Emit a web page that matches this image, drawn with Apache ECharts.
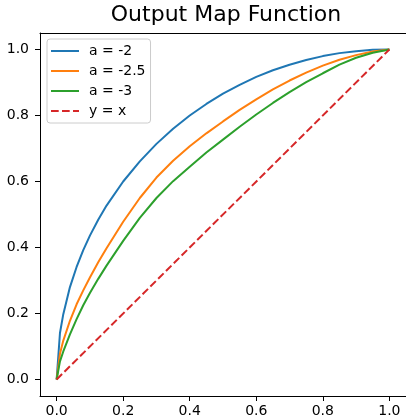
<!DOCTYPE html>
<html>
<head>
<meta charset="utf-8">
<script src="https://cdn.jsdelivr.net/npm/echarts@6/dist/echarts.min.js"></script>
<style>
html,body{margin:0;padding:0;background:#fff;}
#chart{width:406px;height:419px;}
</style>
</head>
<body>
<div id="chart"></div>
<script>
const xs = [0, 0.01, 0.02, 0.04, 0.06, 0.08, 0.1, 0.125, 0.15, 0.2, 0.25, 0.3, 0.35, 0.4, 0.45, 0.5, 0.55, 0.6, 0.65, 0.7, 0.75, 0.8, 0.85, 0.9, 0.95, 1.0];
const blueY = [0, 0.141, 0.198, 0.28, 0.341, 0.392, 0.436, 0.484, 0.527, 0.6, 0.661, 0.714, 0.76, 0.8, 0.835, 0.866, 0.893, 0.917, 0.937, 0.954, 0.968, 0.98, 0.989, 0.995, 0.999, 1.0];
const orangeY = [0, 0.078, 0.118, 0.178, 0.228, 0.27, 0.309, 0.355, 0.398, 0.478, 0.55, 0.612, 0.663, 0.707, 0.746, 0.782, 0.817, 0.849, 0.879, 0.906, 0.93, 0.951, 0.969, 0.983, 0.994, 1.0];
const greenY = [0, 0.055, 0.085, 0.137, 0.183, 0.225, 0.262, 0.305, 0.345, 0.42, 0.49, 0.55, 0.601, 0.645, 0.688, 0.727, 0.766, 0.803, 0.838, 0.871, 0.901, 0.928, 0.954, 0.975, 0.99, 1.0];
const lineX = [0, 1];
const lineY = [0, 1];
const seriesNames = ['a = -2', 'a = -2.5', 'a = -3', 'y = x'];
const tickValues = [0, 0.2, 0.4, 0.6, 0.8, 1.0];

function pairs(x, y) { return x.map((v, i) => [v, y[i]]); }

const chart = echarts.init(document.getElementById('chart'), null, {renderer: 'canvas'});
const font = 'DejaVu Sans';
const axisCommon = {
  type: 'value', min: -0.05, max: 1.05,
  splitLine: {show: false},
  axisLine: {show: true, onZero: false, lineStyle: {color: '#000', width: 1}},
  axisTick: {show: true, inside: false, length: 5, lineStyle: {color: '#000', width: 1}, customValues: tickValues},
  axisLabel: {show: true, customValues: tickValues, color: '#000', fontFamily: font, fontSize: 14,
    formatter: v => v.toFixed(1)}
};
const option = {
  backgroundColor: '#fff',
  animation: false,
  title: {
    text: 'Output Map Function',
    left: 226, top: 4, padding: 0, textAlign: 'center',
    textStyle: {fontFamily: font, fontSize: 22, fontWeight: 'normal', color: '#000'}
  },
  legend: {
    orient: 'vertical', left: 47, top: 39,
    padding: [5, 5, 5, 3],
    itemWidth: 28, itemHeight: 14, itemGap: 6,
    backgroundColor: 'rgba(255,255,255,0.8)', borderColor: '#cccccc', borderWidth: 1, borderRadius: 3,
    itemStyle: {opacity: 0},
    textStyle: {fontFamily: font, fontSize: 14, color: '#000', lineHeight: 14, padding: [0, 0, 0, 5]},
    data: seriesNames
  },
  grid: {left: 40, top: 33, width: 373, height: 363, containLabel: false},
  xAxis: [
    Object.assign({}, axisCommon, {position: 'bottom', axisLabel: Object.assign({}, axisCommon.axisLabel, {margin: 8})}),
    {type: 'value', min: -0.05, max: 1.05, position: 'top', splitLine: {show: false},
     axisLine: {show: true, onZero: false, lineStyle: {color: '#000', width: 1}}, axisTick: {show: false}, axisLabel: {show: false}}
  ],
  yAxis: [
    Object.assign({}, axisCommon, {position: 'left', axisLabel: Object.assign({}, axisCommon.axisLabel, {margin: 11})}),
    {type: 'value', min: -0.05, max: 1.05, position: 'right', splitLine: {show: false},
     axisLine: {show: true, onZero: false, lineStyle: {color: '#000', width: 1}}, axisTick: {show: false}, axisLabel: {show: false}}
  ],
  series: [
    {name: seriesNames[0], type: 'line', data: pairs(xs, blueY), showSymbol: false, symbol: 'none', smooth: false,
     lineStyle: {color: '#1f77b4', width: 2}, itemStyle: {color: '#1f77b4'}},
    {name: seriesNames[1], type: 'line', data: pairs(xs, orangeY), showSymbol: false, symbol: 'none',
     lineStyle: {color: '#ff7f0e', width: 2}, itemStyle: {color: '#ff7f0e'}},
    {name: seriesNames[2], type: 'line', data: pairs(xs, greenY), showSymbol: false, symbol: 'none',
     lineStyle: {color: '#2ca02c', width: 2}, itemStyle: {color: '#2ca02c'}},
    {name: seriesNames[3], type: 'line', data: pairs(lineX, lineY), showSymbol: false, symbol: 'none',
     lineStyle: {color: '#d62728', width: 2, type: [7.7, 3.3]}, itemStyle: {color: '#d62728'}}
  ]
};
chart.setOption(option);
</script>
</body>
</html>
